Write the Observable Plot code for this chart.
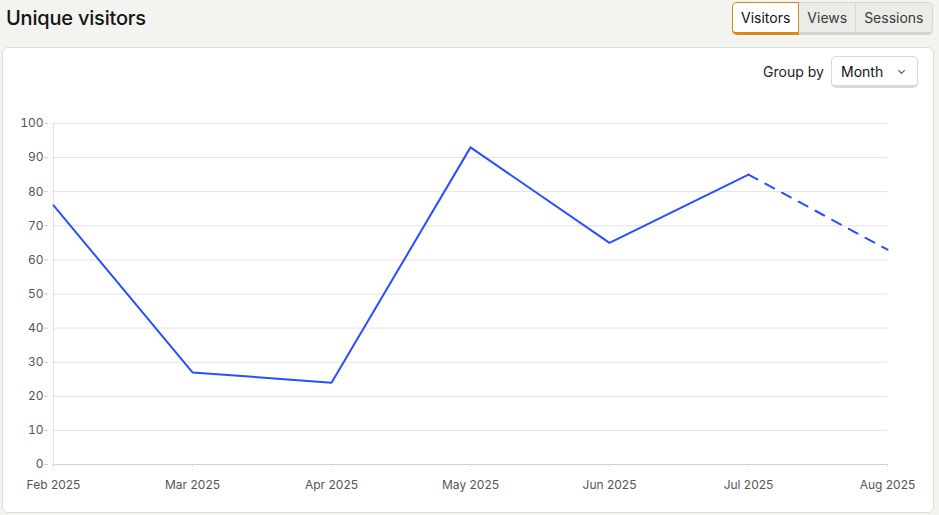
<!DOCTYPE html>
<html>
<head>
<meta charset="utf-8">
<script src="https://cdn.jsdelivr.net/npm/d3@7"></script>
<script src="https://cdn.jsdelivr.net/npm/@observablehq/plot@0.6"></script>
<style>
  body { margin: 0; width: 939px; height: 515px; background: #f3f3ef; font-family: Inter, "Noto Sans", sans-serif; position: relative; overflow: hidden; }
  .title { position: absolute; left: 6px; top: 6px; font-size: 20px; font-weight: 500; color: #141414; letter-spacing: -0.2px; }
  .tabs { position: absolute; left: 732px; top: 2px; display: flex; }
  .tab { box-sizing: border-box; height: 33px; padding: 0 8px; font-size: 14px; line-height: 30px; color: #3a3a3a; background: #ebebe8; border: 1px solid #d6d6d2; border-bottom: 3px solid #d2d2ce; }
  .tab + .tab { border-left: none; }
  .tab.first { border-radius: 5px 0 0 5px; }
  .tab.last { border-radius: 0 5px 5px 0; }
  .tab.active { background: #fff; color: #111; border: 1px solid #d9891a; border-bottom: 3px solid #d9891a; }
  .card { position: absolute; left: 2px; top: 47px; width: 930px; height: 464px; background: #fff; border: 1px solid #dcdcd8; border-radius: 6px; }
  .groupby { position: absolute; left: 763px; top: 63px; font-size: 14px; color: #222; }
  .select { position: absolute; left: 831px; top: 56px; box-sizing: border-box; width: 87px; height: 32px; background: #fff; border: 1px solid #d9d9d5; border-bottom: 3px solid #d9d9d5; border-radius: 5px; font-size: 14px; color: #111; padding-left: 9px; line-height: 29px; }
  .select span { position: absolute; right: 11px; top: -2px; font-size: 12px; color: #444; }
  #chart { position: absolute; left: 0; top: 100px; }
</style>
</head>
<body>
<div class="title">Unique visitors</div>
<div class="tabs">
  <div class="tab active first">Visitors</div>
  <div class="tab">Views</div>
  <div class="tab last">Sessions</div>
</div>
<div class="card"></div>
<div class="groupby">Group by</div>
<div class="select">Month<span>&#8964;</span></div>
<div id="chart"></div>
<script>
const months = ["Feb 2025", "Mar 2025", "Apr 2025", "May 2025", "Jun 2025", "Jul 2025", "Aug 2025"];
const visitors = [76, 27, 24, 93, 65, 85, 63];
// last month is still in progress -> dashed
const completeCount = 6;

const data = months.map((m, i) => ({ month: m, value: visitors[i] }));
const solid = data.slice(0, completeCount);
const partial = data.slice(completeCount - 1);

const blue = "#2a4dff";

const plot = Plot.plot({
  width: 939,
  height: 394,
  marginLeft: 52,
  marginRight: 52,
  marginTop: 23,
  marginBottom: 30,
  style: { fontSize: "12px", fontFamily: "Inter, 'Noto Sans', sans-serif", color: "#555", background: "transparent" },
  x: { type: "point", domain: months, padding: 0 },
  y: { domain: [0, 100] },
  marks: [
    Plot.gridY({ ticks: d3.range(10, 101, 10), stroke: "#e2e2e2", strokeOpacity: 1 }),
    Plot.ruleX([months[0]], { stroke: "#e2e2e2" }),
    Plot.ruleY([0], { stroke: "#cfcfd4" }),
    Plot.axisY({ ticks: d3.range(0, 101, 10), tickSize: 4, tickPadding: 1, dx: -4, stroke: "#ccc", fill: "#555", label: null }),
    Plot.axisX({ tickSize: 6, stroke: "#ddd", strokeDasharray: "3 2", fill: "#555", tickPadding: 10, label: null }),
    Plot.line(solid, { x: "month", y: "value", stroke: blue, strokeWidth: 2 }),
    Plot.line(partial, { x: "month", y: "value", stroke: blue, strokeWidth: 2, strokeDasharray: "10 9" })
  ]
});
document.querySelector("#chart").append(plot);
</script>
</body>
</html>
